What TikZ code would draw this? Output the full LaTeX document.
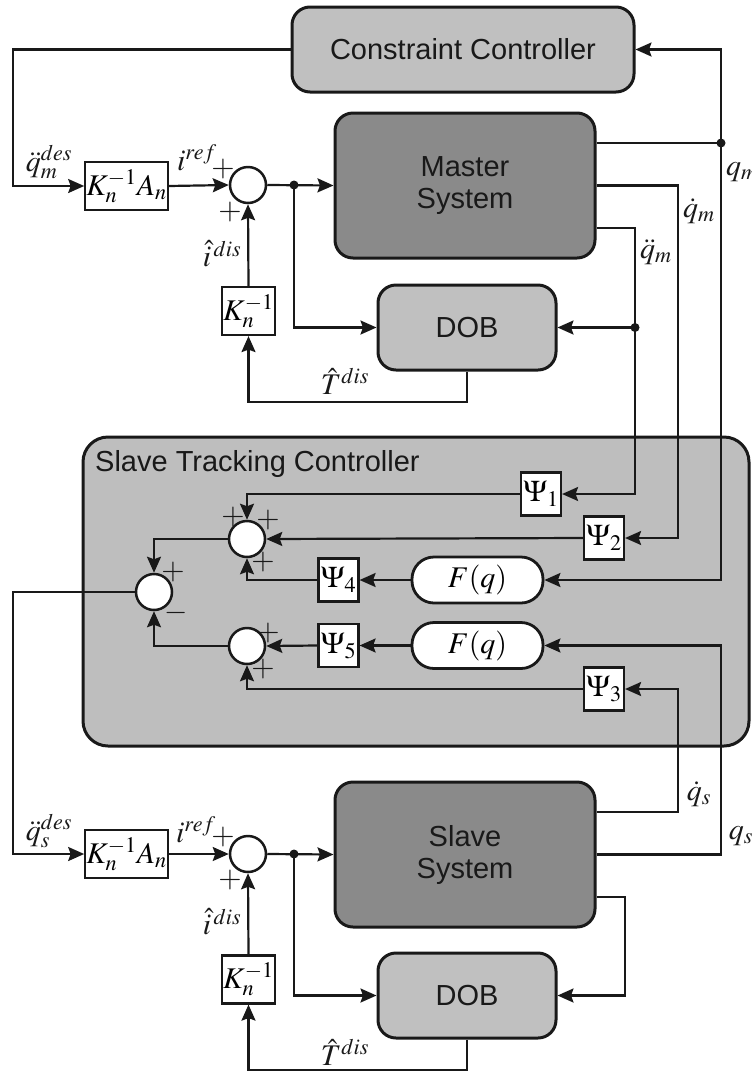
\documentclass[tikz,border=0pt]{standalone}
\usepackage{mathptmx}
\usepackage[no-math]{fontspec}
\newfontfamily\lsans{Liberation Sans}
\usetikzlibrary{arrows.meta,calc}
\definecolor{boxdark}{RGB}{138,138,138}
\definecolor{boxlight}{RGB}{192,192,192}
\definecolor{panel}{RGB}{190,190,190}
\definecolor{ink}{RGB}{25,25,25}
\newcommand\mfs{\fontsize{30}{33}\selectfont}
\newcommand\bfs{\lsans\fontsize{29}{33}\selectfont}
\begin{document}
\begin{tikzpicture}[x=1pt,y=-1pt,
  bigbox/.style={draw=ink, line width=3pt, rounded corners=18pt, align=center, text=ink, font=\bfs},
  darkbox/.style={bigbox, fill=boxdark, minimum width=260pt, minimum height=145pt},
  lightbox/.style={bigbox, fill=boxlight},
  dobbox/.style={lightbox, minimum width=178pt, minimum height=85pt},
  blk/.style={draw=ink, fill=white, line width=2.2pt, font=\mfs, inner sep=1pt},
  psibox/.style={blk, minimum width=40pt, minimum height=43pt},
  fq/.style={draw=ink, fill=white, line width=2.8pt, rounded corners=22pt, minimum width=131pt, minimum height=46pt, font=\mfs},
  sumc/.style={circle, draw=ink, fill=white, line width=2.5pt, minimum size=36pt, inner sep=0pt},
  wire/.style={draw=ink, line width=2.2pt},
  arr/.style={wire, -{Stealth[length=16pt,width=14pt,inset=2.5pt]}},
  jdot/.style={circle, fill=ink, minimum size=9pt, inner sep=0pt},
  lab/.style={font=\mfs, inner sep=0pt, text=ink},
  sgn/.style={font=\fontsize{30}{32}\selectfont, inner sep=0pt, text=ink}]

\useasboundingbox (0,0) rectangle (752,1072);

% ---------- slave tracking controller panel ----------
\node[bigbox, fill=panel, rounded corners=25pt, minimum width=666pt, minimum height=309pt] (stc) at (416,591.5) {};
\node[font=\bfs, text=ink, anchor=base west, inner sep=0pt] (stctitle) at (95,471) {Slave Tracking Controller};

% ---------- master side blocks ----------
\node[lightbox, minimum width=342pt, minimum height=85pt] (cc) at (463,49.5) {Constraint Controller};
\node[darkbox] (ms) at (465,185.5) {Master\\[-1pt]System};
\node[dobbox] (dob1) at (467,327.5) {DOB};
\node[blk, minimum width=81pt, minimum height=48pt] (k1) at (126.5,186) {$K_n^{-1}A_n$};
\node[sumc] (s1) at (248,185) {};
\node[blk, minimum width=53pt, minimum height=48pt] (kinv1) at (248.5,311) {$K_n^{-1}$};

% ---------- slave side blocks ----------
\node[darkbox] (ss) at (465,854.5) {Slave\\[-1pt]System};
\node[dobbox] (dob2) at (467,995.5) {DOB};
\node[blk, minimum width=81pt, minimum height=48pt] (k2) at (126.5,854) {$K_n^{-1}A_n$};
\node[sumc] (s2) at (248,854) {};
\node[blk, minimum width=53pt, minimum height=48pt] (kinv2) at (248.5,979.5) {$K_n^{-1}$};

% ---------- tracking controller internals ----------
\node[psibox] (psi1) at (541,494) {$\Psi_1$};
\node[psibox] (psi2) at (604,538) {$\Psi_2$};
\node[psibox] (psi3) at (604,689) {$\Psi_3$};
\node[psibox] (psi4) at (338.5,580) {$\Psi_4$};
\node[psibox] (psi5) at (338.5,645.5) {$\Psi_5$};
\node[fq] (f1) at (477.5,580) {$F(q)$};
\node[fq] (f2) at (477.5,645.5) {$F(q)$};
\node[sumc] (sa) at (247,539) {};
\node[sumc] (sb) at (247,646) {};
\node[sumc] (sc) at (154,592) {};

% ---------- bus positions ----------
\coordinate (xL) at (13,0);
\coordinate (xQ) at (721,0);
\coordinate (xQd) at (678,0);
\coordinate (xQdd) at (635,0);
\coordinate (xS3) at (625,0);
\coordinate (yqm) at (0,143);
\coordinate (yqdd) at (0,228);
\coordinate (yT1) at (0,402);
\coordinate (yqds) at (0,812);
\coordinate (ys3) at (0,897);
\coordinate (yT2) at (0,1070);
\coordinate (j1) at (294,185);
\coordinate (j2) at (294,854);
\coordinate (qm) at (721,143);
\coordinate (jd1) at (635,327.5);

% ---------- master loop ----------
\draw[arr] (cc.west) -- (cc.west -| xL) |- (k1.west);
\draw[arr] (k1.east) -- (s1.west);
\draw[arr] (s1.east) -- (ms.west);
\draw[arr] (j1) |- (dob1.west);
\draw[arr] (dob1.south) -- (dob1.south |- yT1) -| (kinv1.south);
\draw[arr] (kinv1.north) -- (s1.south);
\node[jdot] (dj1) at (j1) {};

% master outputs
\draw[wire] (ms.east |- yqm) -- (qm);
\draw[arr] (qm) |- (cc.east);
\draw[arr] (qm) |- (f1.east);
\node[jdot] (dqm) at (qm) {};
\draw[arr] (ms.east) -| (psi2.east -| xQd) -- (psi2.east);
\draw[arr] (ms.east |- yqdd) -- (yqdd -| xQdd) -- (psi1.east -| xQdd) -- (psi1.east);
\draw[arr] (jd1) -- (dob1.east);
\node[jdot] (djd1) at (jd1) {};

% ---------- tracking controller wiring ----------
\draw[arr] (psi1.west) -| (sa.north);
\draw[arr] (psi2.west) -- (sa.east);
\draw[arr] (f1.west) -- (psi4.east);
\draw[arr] (psi4.west) -| (sa.south);
\draw[arr] (sa.west) -| (sc.north);
\draw[arr] (f2.west) -- (psi5.east);
\draw[arr] (psi5.west) -- (sb.east);
\draw[arr] (psi3.west) -| (sb.south);
\draw[arr] (sb.west) -| (sc.south);
\draw[arr] (sc.west) -- (sc.west -| xL) |- (k2.west);

% ---------- slave loop ----------
\draw[arr] (k2.east) -- (s2.west);
\draw[arr] (s2.east) -- (ss.west);
\draw[arr] (j2) |- (dob2.west);
\draw[arr] (dob2.south) -- (dob2.south |- yT2) -| (kinv2.south);
\draw[arr] (kinv2.north) -- (s2.south);
\node[jdot] (dj2) at (j2) {};

% slave outputs
\draw[arr] (ss.east) -| (f2.east -| xQ) -- (f2.east);
\draw[arr] (ss.east |- yqds) -- (yqds -| xQd) -- (psi3.east -| xQd) -- (psi3.east);
\draw[arr] (ss.east |- ys3) -- (ys3 -| xS3) -- (dob2.east -| xS3) -- (dob2.east);

% ---------- signal labels ----------
\node[lab] (lqdes) at (49,162) {$\ddot{q}_m^{des}$};
\node[lab] (liref1) at (197,158) {$i^{ref}$};
\node[lab] (lidis1) at (222,254) {$\hat{i}^{\,dis}$};
\node[lab] (ltdis1) at (345,381) {$\hat{T}^{dis}$};
\node[lab] (lqm) at (742,172) {$q_m$};
\node[lab] (lqdm) at (699,211) {$\dot{q}_m$};
\node[lab] (lqddm) at (656,252) {$\ddot{q}_m$};
\node[lab] (lqsdes) at (49,831) {$\ddot{q}_s^{des}$};
\node[lab] (liref2) at (196,830) {$i^{ref}$};
\node[lab] (lidis2) at (222,922) {$\hat{i}^{\,dis}$};
\node[lab] (ltdis2) at (345,1052) {$\hat{T}^{dis}$};
\node[lab] (lqds) at (699,794) {$\dot{q}_s$};
\node[lab] (lqs) at (741,836) {$q_s$};

% ---------- summing signs ----------
\node[sgn] (p1a) at (223,169) {$+$};
\node[sgn] (p1b) at (230,212) {$+$};
\node[sgn] (p2a) at (223,837) {$+$};
\node[sgn] (p2b) at (230,880) {$+$};
\node[sgn] (pa1) at (233,517) {$+$};
\node[sgn] (pa2) at (268,520) {$+$};
\node[sgn] (pa3) at (263,562) {$+$};
\node[sgn] (pc1) at (173,572) {$+$};
\node[sgn] (pc2) at (176,613) {$-$};
\node[sgn] (pb1) at (268,633) {$+$};
\node[sgn] (pb2) at (263,669) {$+$};
\end{tikzpicture}
\end{document}
